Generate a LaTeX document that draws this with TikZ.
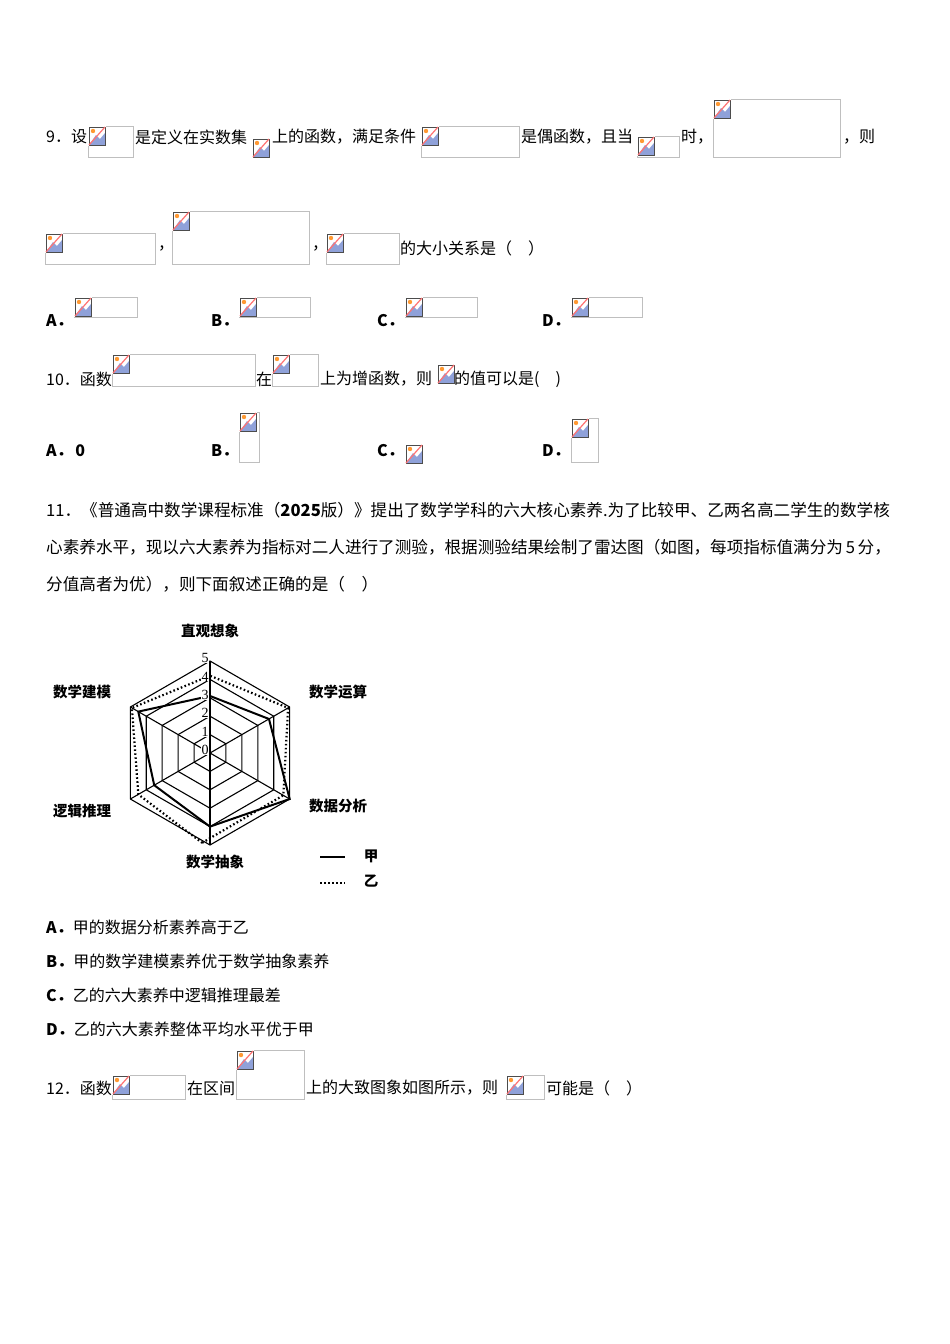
\documentclass[tikz,border=0pt]{standalone}
\usepackage{fontspec}
\setmainfont{Liberation Serif}
\newfontfamily\cjk{Noto Sans CJK SC}
\tikzset{tx/.style={anchor=west,inner sep=0pt,font=\cjk\fontsize{16}{18}\selectfont},
 tl/.style={anchor=west,inner sep=0pt,font=\cjk\fontsize{16.6}{18}\selectfont},
 lb/.style={inner sep=0pt,font=\cjk\bfseries\fontsize{14.5}{16}\selectfont},
 num/.style={inner sep=0pt,font=\fontsize{14}{14}\selectfont},
 grid/.style={line width=1.1pt},
 jia/.style={line width=2pt},
 yi/.style={line width=2.2pt,dash pattern=on 1.6pt off 2.4pt}}
\newcommand\myicon[2]{%
 \begin{scope}[shift={(#1,#2)}]
 \fill[white] (0,0) rectangle (18,20);
 \fill[cyan!35!blue!45] (1,19)--(8,9)--(12,13)--(17,7)--(17,19)--cycle;
 \draw[black!70,line width=0.8pt] (1,1) rectangle (17,19);
 \fill[orange!80] (5,5) circle (2.2);
 \draw[red!55,line width=1.2pt] (1,19)--(17,1);
 \end{scope}}
\newcommand\phbox[4]{\draw[black!25,line width=0.6pt] (#1,#2) rectangle (#3,#4); \myicon{#1}{#2}}
\begin{document}
\begin{tikzpicture}[x=1pt,y=-1pt]
\useasboundingbox (0,0) rectangle (950,1344);
% Q9
\node[tx] (q9a) at (46,137) {9．设};
\phbox{88}{126}{133}{157}
\node[tx] (q9b) at (135,137) {是定义在实数集};
\myicon{252}{138}
\node[tx] (q9c) at (272,137) {上的函数，满足条件};
\phbox{421}{126}{519}{157}
\node[tx] (q9d) at (521,137) {是偶函数，且当};
\phbox{637}{136}{679}{157}
\node[tx] (q9e) at (681,137) {时，};
\phbox{713}{99}{840}{157}
\node[tx] (q9f) at (843,137) {，则};
\phbox{45}{233}{155}{264}
\node[tx] (c1) at (158,248) {，};
\phbox{172}{211}{309}{264}
\node[tx] (c2) at (312,248) {，};
\phbox{326}{233}{399}{264}
\node[tx] (q9g) at (400,248) {的大小关系是（\quad）};
\node[tx] (o9a) at (46,321) {\bfseries A．};
\phbox{74}{297}{137}{317}
\node[tx] (o9b) at (211,321) {\bfseries B．};
\phbox{239}{297}{310}{317}
\node[tx] (o9c) at (377,321) {\bfseries C．};
\phbox{405}{297}{477}{317}
\node[tx] (o9d) at (542,321) {\bfseries D．};
\phbox{571}{297}{642}{317}
% Q10
\node[tx] (q10a) at (46,379) {10．函数};
\phbox{112}{354}{255}{386}
\node[tx] (q10b) at (256,379) {在};
\phbox{272}{354}{318}{386}
\node[tx] (q10c) at (320,379) {上为增函数，则};
\myicon{437}{364}
\node[tx] (q10d) at (454,379) {的值可以是(\quad )};
\node[tx] (o10a) at (46,451) {\bfseries A．\,0};
\node[tx] (o10b) at (211,451) {\bfseries B．};
\phbox{239}{412}{259}{462}
\node[tx] (o10c) at (377,451) {\bfseries C．};
\myicon{405}{444}
\node[tx] (o10d) at (542,451) {\bfseries D．};
\phbox{571}{418}{598}{462}
% Q11
\node[tl] (q11a) at (46,510) {11．《普通高中数学课程标准（\textbf{2025}版）》提出了数学学科的六大核心素养.为了比较甲、乙两名高二学生的数学核};
\node[tl] (q11b) at (46,547) {心素养水平，现以六大素养为指标对二人进行了测验，根据测验结果绘制了雷达图（如图，每项指标值满分为\,5\,分，};
\node[tl] (q11c) at (46,584) {分值高者为优），则下面叙述正确的是（\quad）};
% radar
\begin{scope}[shift={(210,753)}]
\foreach \r in {1,...,5}{\draw[grid] (90:\r*18.4)--(30:\r*18.4)--(-30:\r*18.4)--(-90:\r*18.4)--(-150:\r*18.4)--(150:\r*18.4)--cycle;}
\foreach \a in {90,30,-30,-90,-150,150}{\draw[grid] (0,0)--(\a:92);}
\draw[jia] (90:4*18.4)--(30:5*18.4)--(-30:3.7*18.4)--(-90:3.1*18.4)--(-150:4.5*18.4)--(150:3.5*18.4)--cycle;
\draw[yi] (95:4.9*18.4)--(30:4.6*18.4)--(-30:4.9*18.4)--(-90:4.2*18.4)--(-150:4.9*18.4)--(150:4.5*18.4)--cycle;
\foreach \k in {0,...,5}{\node[num,fill=white,inner sep=0.3pt] at (-5,-\k*18.4-3) {\k};}
\end{scope}
\node[lb] (l1) at (210,631) {直观想象};
\node[lb] (l2) at (338,692) {数学运算};
\node[lb] (l3) at (338,806) {数据分析};
\node[lb] (l4) at (215,862) {数学抽象};
\node[lb] (l5) at (82,811) {逻辑推理};
\node[lb] (l6) at (82,692) {数学建模};
\coordinate (s1) at (320,857); \coordinate (s2) at (345,857);
\draw[jia,line width=2.5pt] (s1)--(s2);
\node[lb] (lj) at (371,856) {甲};
\coordinate (d1) at (320,883); \coordinate (d2) at (345,883);
\draw[yi] (d1)--(d2);
\node[lb] (ly) at (371,881) {乙};
\node[tx] (o11a) at (46,927) {\bfseries A．\mdseries 甲的数据分析素养高于乙};
\node[tx] (o11b) at (46,961) {\bfseries B．\mdseries 甲的数学建模素养优于数学抽象素养};
\node[tx] (o11c) at (46,995) {\bfseries C．\mdseries 乙的六大素养中逻辑推理最差};
\node[tx] (o11d) at (46,1029) {\bfseries D．\mdseries 乙的六大素养整体平均水平优于甲};
% Q12
\node[tx] (q12a) at (46,1088) {12．函数};
\phbox{112}{1075}{185}{1099}
\node[tx] (q12b) at (187,1088) {在区间};
\phbox{236}{1050}{304}{1099}
\node[tx] (q12c) at (306,1088) {上的大致图象如图所示，则};
\phbox{506}{1075}{544}{1099}
\node[tx] (q12d) at (546,1088) {可能是（\quad）};
\end{tikzpicture}
\end{document}
